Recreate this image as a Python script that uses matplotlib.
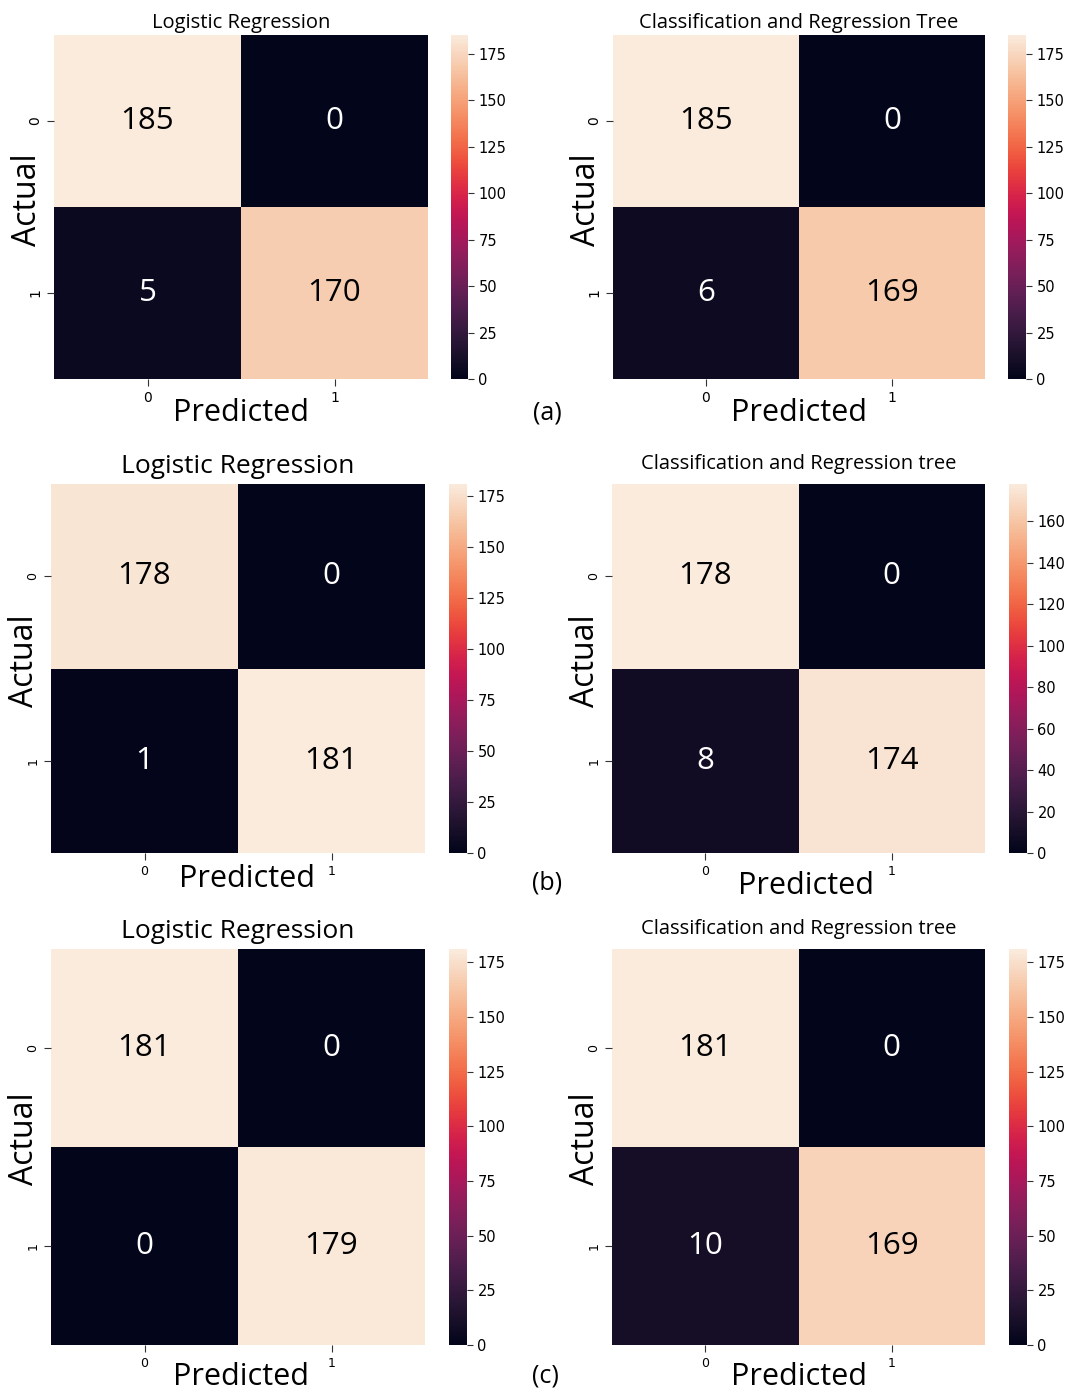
import matplotlib.pyplot as plt
import seaborn as sns
import numpy as np

W, H = 1070, 1393

# confusion matrices, rows = actual, cols = predicted
lr_a = [[185, 0], [5, 170]]
cart_a = [[185, 0], [6, 169]]
lr_b = [[178, 0], [1, 181]]
cart_b = [[178, 0], [8, 174]]
lr_c = [[181, 0], [0, 179]]
cart_c = [[181, 0], [10, 169]]

classes = ['0', '1']
title_lr = 'Logistic Regression'
title_cart_a = 'Classification and Regression Tree'
title_cart = 'Classification and Regression tree'
cb_ticks_25 = [0, 25, 50, 75, 100, 125, 150, 175]
cb_ticks_20 = [0, 20, 40, 60, 80, 100, 120, 140, 160]
row_tags = ['(a)', '(b)', '(c)']

TXT = 'Open Sans'


def box(x0, y0, x1, y1):
    # pixel box -> figure fraction
    return [x0 / W, 1 - y1 / H, (x1 - x0) / W, (y1 - y0) / H]


# data, title, title size, title pad, axes box, colorbar box, cb ticks, tick size, xlabel y, xlabel dx
panels = [
    (lr_a, title_lr, 14.5, 5, (54, 35, 428, 379), (451, 35, 468, 379), cb_ticks_25, 10, -0.10, 0.0),
    (cart_a, title_cart_a, 14.5, 5, (613, 35, 985, 379), (1008, 35, 1026, 379), cb_ticks_25, 10, -0.10, 0.0),
    (lr_b, title_lr, 19, 8, (51, 484, 425, 853), (449, 484, 467, 853), cb_ticks_25, 9, -0.071, 0.025),
    (cart_b, title_cart, 14.5, 11, (612, 484, 985, 853), (1009, 484, 1027, 853), cb_ticks_20, 9, -0.089, 0.02),
    (lr_c, title_lr, 19, 8, (51, 949, 425, 1345), (449, 949, 467, 1345), cb_ticks_25, 9, -0.081, 0.008),
    (cart_c, title_cart, 14.5, 11, (612, 949, 985, 1345), (1009, 949, 1027, 1345), cb_ticks_25, 9, -0.082, 0.0),
]

fig = plt.figure(figsize=(W / 100, H / 100), dpi=100)

for data, title, tsize, tpad, abox, cbox, cticks, tks, xly, xlx in panels:
    ax = fig.add_axes(box(*abox))
    cax = fig.add_axes(box(*cbox))
    sns.heatmap(np.array(data), annot=True, fmt='d', cmap='rocket', ax=ax, cbar_ax=cax,
                xticklabels=classes, yticklabels=classes,
                annot_kws={'fontsize': 22.5, 'family': TXT})
    # pure black / white numbers like the original
    for t in ax.texts:
        t.set_color('white' if t.get_color() in ('w', 'white') else 'black')
    ax.set_title(title, fontsize=tsize, family=TXT, pad=tpad)
    ax.set_xlabel('Predicted', fontsize=22, family=TXT, va='center')
    ax.xaxis.set_label_coords(0.5 + xlx, xly)
    ax.set_ylabel('Actual', fontsize=23, family=TXT, va='center')
    ax.yaxis.set_label_coords(-0.071, 0.52)
    ax.tick_params(axis='both', labelsize=tks, length=5, color='#333333')
    plt.setp(ax.get_yticklabels(), rotation=90, va='center')
    plt.setp(ax.get_xticklabels(), rotation=0)
    cax.set_yticks(cticks)
    cax.tick_params(labelsize=10.5, length=4, color='#333333')

for tag, (x, y) in zip(row_tags, [(547, 413), (547, 883), (545, 1376)]):
    fig.text(x / W, 1 - y / H, tag, fontsize=18, family=TXT, ha='center', va='center')

fig.savefig('out.png', dpi=100)
